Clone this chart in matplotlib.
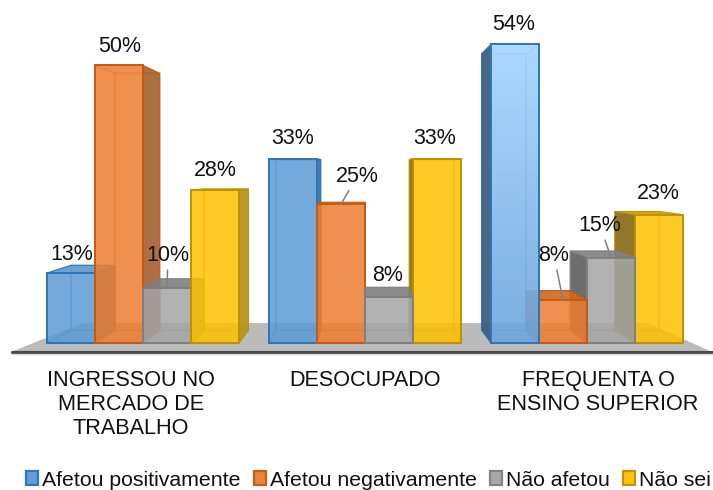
import matplotlib
matplotlib.use('Agg')
import matplotlib.pyplot as plt
import numpy as np
from matplotlib.colors import LinearSegmentedColormap
from matplotlib.patches import Patch, Polygon

plt.rcParams['font.family'] = ['Liberation Sans', 'DejaVu Sans']

### Data ######################################################################

categories = ['INGRESSOU NO\nMERCADO DE\nTRABALHO', 'DESOCUPADO', 'FREQUENTA O\nENSINO SUPERIOR']
series = ['Afetou positivamente', 'Afetou negativamente', 'Não afetou', 'Não sei']

positive = [12.6, 33.2, 53.8]
negative = [50.0, 25.0, 7.7]
unaffected = [10.0, 8.3, 15.4]
unknown = [27.5, 33.2, 23.1]

positive_labels = ['13%', '33%', '54%']
negative_labels = ['50%', '25%', '8%']
unaffected_labels = ['10%', '8%', '15%']
unknown_labels = ['28%', '33%', '23%']

values = [positive, negative, unaffected, unknown]
labels = [positive_labels, negative_labels, unaffected_labels, unknown_labels]

### Style and layout ##########################################################

front = ['#5B9BD5', '#ED7D31', '#A5A5A5', '#FFC000']
edges = ['#2E75B6', '#C55A11', '#7F7F7F', '#BF9000']
sides = ['#3F5F80', '#A86838', '#666666', '#8A7020']
tops = ['#5C97D0', '#D0651F', '#808080', '#C9A000']
sides_right = ['#3F74A8', '#A86838', '#8F8F8F', '#B8941F']

px_per_x = 222.0
px_per_pct = 5.55
base_px = 343.0
center_px = 143.0
bar_w = 48.0 / px_per_x
depth = 0.075
vp_x = 1.0
vp_y = 31.0
eps = 1e-6


def to_x(px):
    return (px - center_px) / px_per_x


def to_y(py):
    return (base_px - py) / px_per_pct


# offsets of the value labels from the top centre of the bar (pixels, up is +)
label_dx = [[1, 0, -1], [1, 16, -9], [1, -1, -11], [0, -2, -1]]
label_dy = [[19, 20, 20], [19, 28, 45], [32, 21, 32], [20, 20, 21]]
leaders = {(2, 0), (1, 1), (1, 2), (2, 2)}

fig = plt.figure(figsize=(7.13, 4.90), dpi=100)
ax = fig.add_axes([0, 0, 1, 1])

### Floor #####################################################################

floor = [(to_x(11), to_y(352)), (to_x(83), to_y(323)), (to_x(648), to_y(323)), (to_x(712), to_y(352))]
ax.add_patch(Polygon(floor, closed=True, fc='#BBBBBB', ec='none', zorder=1))
ax.plot([to_x(12), to_x(713)], [to_y(351.5), to_y(351.5)], color='#484848', lw=2.2,
        solid_capstyle='round', zorder=2)
ax.plot([to_x(12), to_x(713)], [to_y(354), to_y(354)], color='#D8D8D8', lw=1, zorder=2)

### Bars ######################################################################


def back_of(x, y):
    return x + depth * (vp_x - x), y + depth * (vp_y - y)


def draw_box(x0, x1, h, s, z, gradient=None):
    bx0, _ = back_of(x0, 0)
    bx1, bh = back_of(x1, h)
    _, bb = back_of(x1, 0)

    # faces behind the front, they only show through it
    line = dict(ec=edges[s], alpha=0.35, lw=1.1)
    ax.add_patch(Polygon([(bx0, bb), (bx1, bb), (bx1, bh), (bx0, bh)], fill=False, zorder=z, **line))
    ax.add_patch(Polygon([(x0, 0), (x1, 0), (bx1, bb), (bx0, bb)], fill=False, zorder=z, **line))

    if x0 > vp_x + eps:
        ax.add_patch(Polygon([(x0, 0), (bx0, bb), (bx0, bh), (x0, h)], fc=sides[s], ec=edges[s],
                             alpha=0.95, lw=0.8, zorder=z))
    else:
        ax.add_patch(Polygon([(x0, 0), (bx0, bb), (bx0, bh), (x0, h)], fill=False, zorder=z, **line))
    if x1 < vp_x - eps:
        ax.add_patch(Polygon([(x1, 0), (bx1, bb), (bx1, bh), (x1, h)], fc=sides_right[s], ec=edges[s],
                             alpha=0.95, lw=0.8, zorder=z))
    else:
        ax.add_patch(Polygon([(x1, 0), (bx1, bb), (bx1, bh), (x1, h)], fill=False, zorder=z, **line))

    if h < vp_y:
        ax.add_patch(Polygon([(x0, h), (x1, h), (bx1, bh), (bx0, bh)], fc=tops[s], ec=edges[s],
                             alpha=0.9, lw=0.8, zorder=z))
    else:
        ax.add_patch(Polygon([(x0, h), (x1, h), (bx1, bh), (bx0, bh)], fill=False, zorder=z, **line))

    if gradient is None:
        ax.add_patch(Polygon([(x0, 0), (x1, 0), (x1, h), (x0, h)], fc=front[s], ec='none',
                             alpha=0.85, zorder=z + 0.1))
    else:
        cmap = LinearSegmentedColormap.from_list('bar', gradient)
        ax.imshow(np.linspace(0, 1, 64).reshape(-1, 1), cmap=cmap, extent=(x0, x1, 0, h),
                  origin='upper', aspect='auto', alpha=0.9, zorder=z + 0.1)
    ax.add_patch(Polygon([(x0, 0), (x1, 0), (x1, h), (x0, h)], fill=False, ec=edges[s],
                         lw=1.4, zorder=z + 0.2))


bars = []
for g in range(len(categories)):
    for s in range(len(series)):
        x0 = g + (s - 2) * bar_w
        bars.append((abs(x0 + bar_w / 2 - vp_x), g, s, x0))

# outer bars first, the ones near the vanishing point sit in front of them
bars.sort(key=lambda b: -b[0])

for z, (_, g, s, x0) in enumerate(bars):
    grad = ['#A3D4FF', '#6CA5DC'] if (g, s) == (2, 0) else None
    draw_box(x0, x0 + bar_w, values[s][g], s, 3 + z, gradient=grad)

### Value labels ##############################################################

for g in range(len(categories)):
    for s in range(len(series)):
        x0 = g + (s - 2) * bar_w
        arrow = None
        if (s, g) in leaders:
            arrow = dict(arrowstyle='-', color='#7F7F7F', lw=1.1, shrinkA=1, shrinkB=0)
        ax.annotate(labels[s][g], xy=(x0 + bar_w / 2, values[s][g]),
                    xytext=(label_dx[s][g], label_dy[s][g]), textcoords='offset pixels',
                    ha='center', va='center', fontsize=15.5, color='#111111',
                    arrowprops=arrow, zorder=50)

### Category labels ###########################################################

cat_px = [131, 365, 598]
for px, cat in zip(cat_px, categories):
    ax.text(to_x(px), to_y(370), cat, ha='center', va='top', fontsize=15.6,
            color='#111111', linespacing=1.19, zorder=50)

### Legend ####################################################################

handles = [Patch(fc=front[i], ec=edges[i], lw=1.6, alpha=0.95) for i in range(4)]
ax.legend(handles, series, loc='center', bbox_to_anchor=(368.5 / 713, 1 - 480 / 490), ncol=4,
          frameon=False, fontsize=15.3, handlelength=0.56, handleheight=0.6, handletextpad=0.2,
          columnspacing=0.62, borderpad=0, labelcolor='#111111')

ax.set_xlim(to_x(0), to_x(713))
ax.set_ylim(to_y(490), to_y(0))
ax.axis('off')

fig.savefig('out.png', dpi=100)
